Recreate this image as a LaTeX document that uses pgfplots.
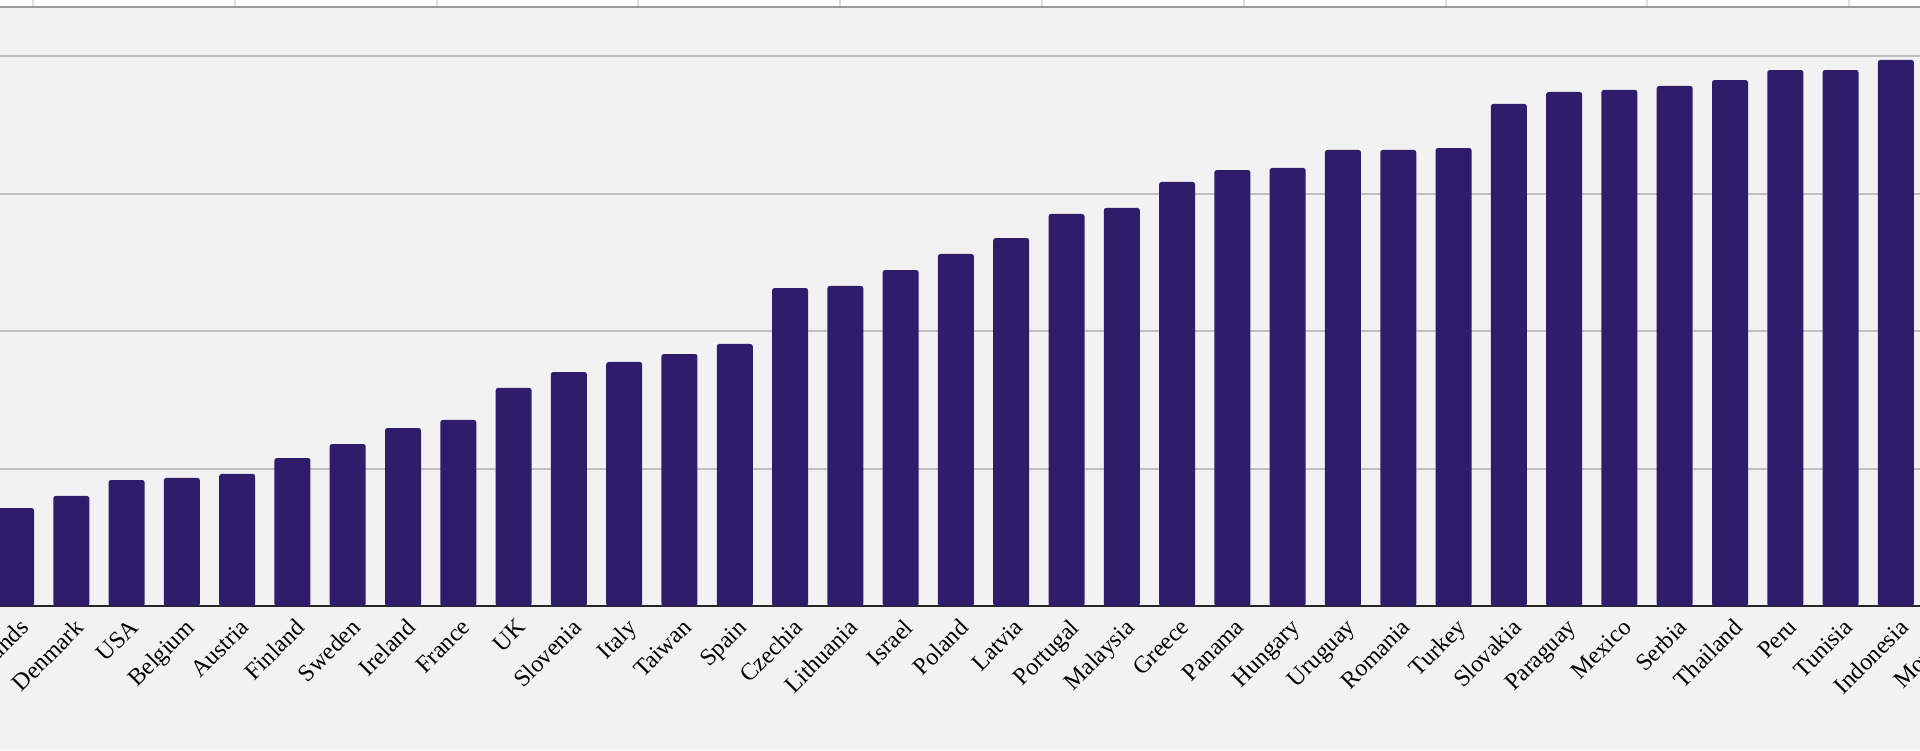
\documentclass[border=0pt]{standalone}
\usepackage{fontspec}
\setmainfont{Liberation Serif}
\usepackage{pgfplots}
\pgfplotsset{compat=1.18}
\definecolor{barcol}{HTML}{2F1D6B}
\definecolor{bgcol}{HTML}{F2F2F2}
\definecolor{gridcol}{HTML}{BFBFBF}
\definecolor{axcol}{HTML}{262626}

\begin{document}
\begin{tikzpicture}
% visible window of the chart (1px = 0.5pt)
\useasboundingbox (0,0) rectangle (960pt,375pt);
\clip (0,0) rectangle (960pt,375pt);
\fill[bgcol] (0,0) rectangle (960pt,375pt);
% bottom edge of the panel above
\fill[white] (0,371.5pt) rectangle (960pt,375pt);
\foreach \k in {0,...,9}
  \draw[black!13, line width=1pt] ({16.5pt+100.9pt*\k},371.5pt) -- ++(0,4pt);
\draw[black!40, line width=1.2pt] (0,371.6pt) -- (960pt,371.6pt);

\begin{axis}[
    scale only axis,
    x=27.645pt, y=68.7pt,
    xmin=-1, xmax=36,
    ymin=0, ymax=4.36,
    anchor=south west, at={(-19.645pt,72pt)},
    axis x line*=bottom, axis y line*=left,
    x axis line style={draw=axcol, line width=1pt},
    y axis line style={draw=none},
    major tick length=0pt,
    xtick={0,...,35},
    xticklabels={Netherlands,Denmark,USA,Belgium,Austria,Finland,Sweden,Ireland,France,UK,
      Slovenia,Italy,Taiwan,Spain,Czechia,Lithuania,Israel,Poland,Latvia,Portugal,
      Malaysia,Greece,Panama,Hungary,Uruguay,Romania,Turkey,Slovakia,Paraguay,Mexico,
      Serbia,Thailand,Peru,Tunisia,Indonesia,Morocco},
    xticklabel style={font=\fontsize{12}{14}\selectfont, inner sep=0pt,
      xshift=1pt, yshift=-5.5pt, rotate=45, anchor=north east},
    ytick={1,2,3,4},
    yticklabels={},
    ymajorgrids,
    major grid style={draw=gridcol, line width=1pt},
]
\addplot[ybar, bar width=18pt, fill=barcol, draw=none, rounded corners=1.2pt]
  coordinates {
  (0,0.713) (1,0.801) (2,0.917) (3,0.932) (4,0.961) (5,1.077) (6,1.179) (7,1.295)
  (8,1.354) (9,1.587) (10,1.703) (11,1.776) (12,1.834) (13,1.907) (14,2.314)
  (15,2.329) (16,2.445) (17,2.562) (18,2.678) (19,2.853) (20,2.897) (21,3.086)
  (22,3.173) (23,3.188) (24,3.319) (25,3.319) (26,3.333) (27,3.654) (28,3.741)
  (29,3.756) (30,3.785) (31,3.828) (32,3.901) (33,3.901) (34,3.974) (35,4.05)
  };
\end{axis}
\end{tikzpicture}
\end{document}
